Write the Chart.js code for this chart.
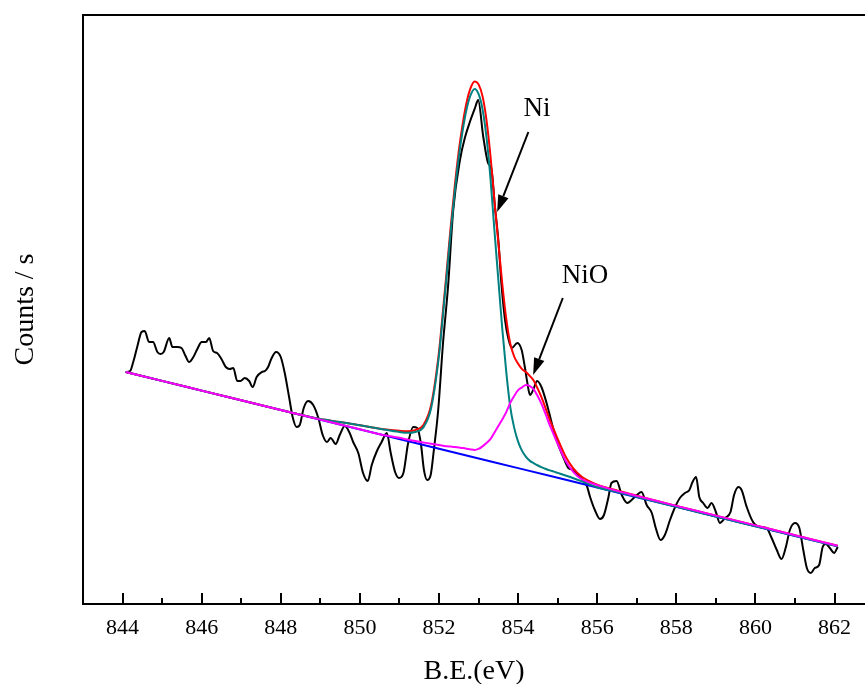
<!DOCTYPE html>
<html><head><meta charset="utf-8">
<script src="https://cdn.jsdelivr.net/npm/chart.js@4.4.1/dist/chart.umd.min.js"></script>
<style>html,body{margin:0;padding:0;background:#fff;overflow:hidden}canvas{display:block}</style>
</head><body>
<canvas id="c" width="865" height="684"></canvas>
<script>
// ---- measured spectrum (B.E. in eV, counts/s in arbitrary units) ----
const rawX = [
844.08,844.19,844.27,844.37,844.48,844.56,844.67,844.77,844.88,844.96,
845.04,845.18,845.26,845.38,845.49,845.58,845.68,845.79,845.89,846.00,
846.11,846.19,846.29,846.39,846.50,846.61,846.71,846.80,846.90,846.98,
847.09,847.20,847.29,847.39,847.52,847.60,847.68,847.77,847.88,848.00,
848.10,848.21,848.30,848.40,848.48,848.58,848.69,848.82,848.95,849.06,
849.17,849.26,849.39,849.49,849.62,849.73,849.83,849.96,850.08,850.20,
850.30,850.42,850.55,850.68,850.78,850.89,850.99,851.10,851.22,851.35,
851.45,851.54,851.62,851.70,851.79,851.87,851.98,852.10,852.23,852.36,
852.53,852.66,852.78,852.91,852.99,853.12,853.24,853.33,853.41,853.50,
853.58,853.67,853.75,853.84,853.98,854.09,854.17,854.23,854.30,854.38,
854.48,854.59,854.72,854.85,854.97,855.14,855.27,855.39,855.56,855.73,
855.82,855.94,856.07,856.17,856.28,856.36,856.49,856.62,856.76,856.87,
857.00,857.12,857.25,857.38,857.48,857.60,857.71,857.84,857.97,858.09,
858.22,858.33,858.41,858.50,858.58,858.68,858.79,858.89,859.00,859.10,
859.23,859.37,859.46,859.57,859.65,859.78,859.94,860.11,860.28,860.41,
860.54,860.66,860.77,860.87,861.00,861.11,861.21,861.30,861.40,861.50,
861.61,861.70,861.78,861.88,861.99,862.08];
const rawY = [
232,233,242,257,272,273,262,262,252,250,
252,266,257,257,256,249,242,247,255,262,
262,266,253,251,245,237,235,236,223,223,
226,223,217,227,232,233,237,246,252,247,
231,207,187,177,179,196,203,199,186,169,
162,166,160,169,178,172,162,151,131,123,
139,152,162,171,151,132,126,131,161,177,
176,161,134,124,129,154,194,260,318,394,
444,467,482,496,504,467,441,434,399,364,
319,284,266,256,261,254,237,222,209,214,
223,217,201,181,164,147,136,134,127,119,
107,94,85,89,106,121,123,109,101,104,
109,112,99,91,76,64,69,84,97,106,
111,114,122,127,107,101,96,101,92,81,
86,92,109,117,114,97,82,77,76,66,
54,45,57,74,81,76,54,36,31,36,
39,57,60,56,51,57];

// ---- fitted curves ----
const fitX = [
844.08,845,846,847,848,849,849.5,850,850.5,851,
851.2,851.4,851.6,851.8,852.0,852.1,852.2,852.3,852.4,852.5,
852.6,852.7,852.8,852.9,853.0,853.1,853.2,853.3,853.4,853.5,
853.6,853.7,853.8,853.9,854.0,854.1,854.2,854.3,854.4,854.5,
854.6,854.7,854.8,854.9,855.0,855.2,855.4,855.6,855.8,856.0,
856.5,857,858,859,860,861,862.08];
const niY = [
232.0,223.1,213.4,203.7,194.0,184.9,182.0,178.7,175.3,172.0,
171.2,172.0,176.4,195.7,248.5,288.9,331.0,374.0,413.0,446.8,
474.0,495.2,509.0,515.1,510.1,494.9,467.0,426.4,374.4,324.5,
275.2,232.3,197.4,176.4,162.4,153.1,147.1,143.1,140.7,138.5,
136.6,135.0,133.6,132.4,131.1,128.5,125.8,122.9,119.8,116.8,
112.2,107.2,97.1,87.5,77.8,68.1,57.6];
const nioY = [
232.0,223.1,213.4,203.7,194.0,184.4,179.5,174.7,169.8,166.2,
164.5,163.0,161.6,160.2,158.9,158.3,157.7,157.4,156.9,156.4,
155.9,155.3,154.6,154.1,155.1,157.6,160.9,164.8,171.3,178.0,
184.6,191.9,201.1,208.0,213.8,216.7,218.9,217.8,214.4,207.5,
199.4,189.3,178.8,169.5,160.2,143.3,131.9,125.0,121.6,118.9,
113.1,108.1,98.1,88.4,78.6,68.8,58.2];
const sumY = [
232.0,223.1,213.4,203.7,194.0,184.9,182.0,178.7,175.3,173.2,
172.7,173.9,178.8,198.7,252.1,292.9,335.4,379.0,418.5,452.8,
480.4,502.0,516.1,522.6,519.6,507.9,484.2,448.5,404.0,361.7,
320.0,285.4,260.7,247.5,240.3,234.9,232.0,227.9,223.1,214.9,
205.9,195.2,184.2,174.7,165.1,147.5,135.3,127.5,122.9,119.2,
113.6,108.4,98.1,88.4,78.6,68.8,58.2];
const bgX = [844.08,848,852,854,856,858,860,862.08];
const bgY = [232.0,194.0,155.3,135.9,116.5,97.1,77.8,57.6];

const majorTicks = [844,846,848,850,852,854,856,858,860,862];
const minorTicks = [845,847,849,851,853,855,857,859,861];

const SERIF = "'Liberation Serif','Times New Roman',Times,serif";

const notes = [
  {text:'Ni',  tx:854.48, ty:488, x1:854.26, y1:472, x2:853.47, y2:392},
  {text:'NiO', tx:855.69, ty:321, x1:855.13, y1:306, x2:854.38, y2:229}
];

const pts = (xs, ys) => xs.map((x, i) => ({x, y: ys[i]}));

const framePlugin = {
  id: 'frame',
  afterDraw(chart) {
    const {ctx, chartArea: a, scales: {x, y}} = chart;
    ctx.save();
    ctx.strokeStyle = '#000';
    ctx.lineWidth = 2;
    ctx.beginPath(); ctx.moveTo(a.left - 1, a.top); ctx.lineTo(a.right, a.top); ctx.stroke();
    const b = Math.round(a.bottom);
    majorTicks.forEach(v => {
      const px = Math.round(x.getPixelForValue(v));
      ctx.beginPath(); ctx.moveTo(px, b); ctx.lineTo(px, b - 11); ctx.stroke();
    });
    minorTicks.forEach(v => {
      const px = Math.round(x.getPixelForValue(v));
      ctx.beginPath(); ctx.moveTo(px, b); ctx.lineTo(px, b - 6); ctx.stroke();
    });
    ctx.fillStyle = '#000';
    ctx.font = '27px ' + SERIF;
    ctx.textAlign = 'center';
    ctx.textBaseline = 'alphabetic';
    notes.forEach(n => {
      ctx.fillText(n.text, x.getPixelForValue(n.tx), y.getPixelForValue(n.ty));
      const sx = x.getPixelForValue(n.x1), sy = y.getPixelForValue(n.y1);
      const ex = x.getPixelForValue(n.x2), ey = y.getPixelForValue(n.y2);
      const ang = Math.atan2(ey - sy, ex - sx);
      const L = 17, W = 5.5;
      const bx = ex - L * Math.cos(ang), by = ey - L * Math.sin(ang);
      ctx.lineWidth = 2;
      ctx.beginPath(); ctx.moveTo(sx, sy); ctx.lineTo(bx, by); ctx.stroke();
      ctx.beginPath();
      ctx.moveTo(ex, ey);
      ctx.lineTo(bx + W * Math.sin(ang), by - W * Math.cos(ang));
      ctx.lineTo(bx - W * Math.sin(ang), by + W * Math.cos(ang));
      ctx.closePath(); ctx.fill();
    });
    ctx.restore();
  }
};

new Chart(document.getElementById('c'), {
  type: 'line',
  data: {
    datasets: [
      {label: 'NiO', data: pts(fitX, nioY), borderColor: '#ff00ff', order: 0},
      {label: 'Ni', data: pts(fitX, niY), borderColor: '#008080', order: 1},
      {label: 'Envelope', data: pts(fitX, sumY), borderColor: '#ff0000', order: 2},
      {label: 'Background', data: pts(bgX, bgY), borderColor: '#0000ff', order: 3},
      {label: 'Raw', data: pts(rawX, rawY), borderColor: '#000000', order: 4}
    ]
  },
  options: {
    responsive: false,
    animation: false,
    devicePixelRatio: 1,
    layout: {padding: {top: 15, left: 0, right: 0, bottom: 0}},
    elements: {
      point: {radius: 0},
      line: {borderWidth: 2, fill: false, cubicInterpolationMode: 'monotone'}
    },
    plugins: {legend: {display: false}, tooltip: {enabled: false}},
    scales: {
      x: {
        type: 'linear', min: 843.0, max: 862.77,
        grid: {display: false, drawTicks: false},
        border: {display: true, color: '#000', width: 2},
        ticks: {color: '#000', padding: 11, maxRotation: 0, autoSkip: false,
                font: {family: SERIF, size: 22}, callback: v => String(v)},
        afterBuildTicks: ax => { ax.ticks = majorTicks.map(v => ({value: v})); },
        afterFit: s => { s.height = 80; },
        title: {display: true, text: 'B.E.(eV)', color: '#000',
                font: {family: SERIF, size: 28, lineHeight: 0.88}, padding: {top: 0, bottom: 0}}
      },
      y: {
        type: 'linear', min: 0, max: 589,
        grid: {display: false, drawTicks: false},
        border: {display: true, color: '#000', width: 2},
        ticks: {display: false},
        afterFit: s => { s.width = 83; },
        title: {display: true, text: 'Counts / s', color: '#000',
                font: {family: SERIF, size: 28, lineHeight: 0.88}, padding: {top: 13, bottom: 0}}
      }
    }
  },
  plugins: [framePlugin]
});
</script>
</body></html>
